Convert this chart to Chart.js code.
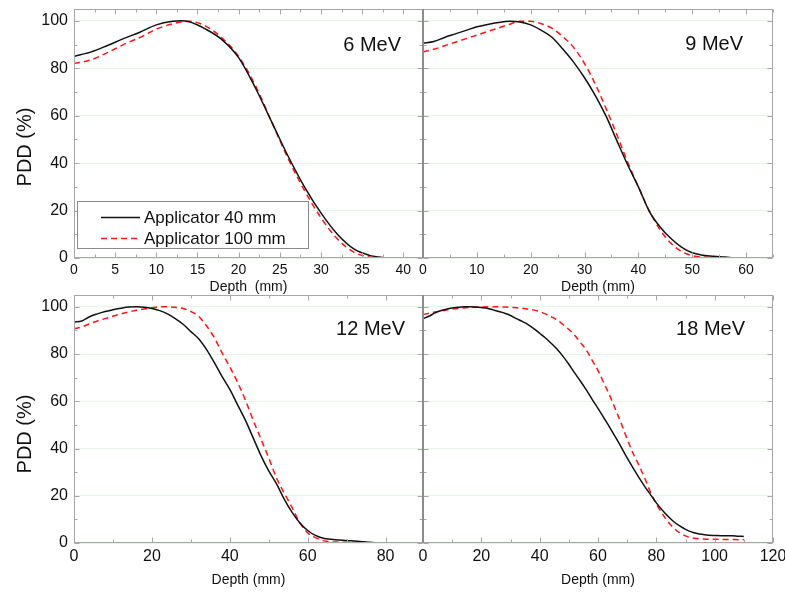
<!DOCTYPE html>
<html>
<head>
<meta charset="utf-8">
<script src="https://cdn.jsdelivr.net/npm/chart.js@4/dist/chart.umd.min.js"></script>
<style>
  html, body { margin: 0; padding: 0; background: #fff; }
  #wrap { position: relative; width: 785px; height: 592px; }
  #wrap canvas { position: absolute; left: 0; top: 0; }
</style>
</head>
<body>
<div id="wrap">
  <canvas id="p6" width="785" height="592"></canvas>
  <canvas id="p9" width="785" height="592"></canvas>
  <canvas id="p12" width="785" height="592"></canvas>
  <canvas id="p18" width="785" height="592"></canvas>
</div>
<script>
// Series names (legend)
const seriesNames = ['Applicator 40 mm', 'Applicator 100 mm'];
const yAxisTitle = 'PDD (%)';
const energyLabels = ['6 MeV', '9 MeV', '12 MeV', '18 MeV'];
const xAxisTitles = ['Depth  (mm)', 'Depth (mm)', 'Depth (mm)', 'Depth (mm)'];

// 6 MeV
const depth6 = [0, 2, 4, 6, 8, 10, 12, 13, 14, 16, 18, 20, 22, 24, 26, 28, 30, 32, 34, 36, 37, 38];
const pdd6_40 = [85, 86.8, 89.5, 92.5, 95.2, 98.3, 99.8, 100, 99.6, 96.5, 92, 84.5, 72, 57.5, 43, 30, 19, 10, 3.8, 1, 0.4, 0];
const pdd6_100 = [82, 83.5, 86.5, 90, 93, 96.5, 98.8, 99.5, 99.8, 97.8, 92.7, 85, 73, 57.5, 42, 28.5, 17, 8, 2.5, 0.3, 0, 0];

// 9 MeV
const depth9 = [0, 2, 4, 6, 8, 10, 12, 14, 16, 18, 20, 22, 24, 26, 28, 30, 32, 34, 36, 38, 40, 42, 44, 46, 48, 50, 52, 54, 56, 58];
const pdd9_40 = [90.6, 91.3, 93, 94.5, 96, 97.5, 98.5, 99.3, 99.8, 99.5, 98.3, 96, 93, 88, 82.5, 76, 68.5, 59.8, 49.5, 39.3, 30, 19.8, 13.2, 8.3, 4.6, 2.2, 1.2, 0.7, 0.4, 0];
const pdd9_100 = [87, 88, 89.5, 91, 92.5, 94, 95.5, 97, 98.5, 99.8, 99.8, 98.8, 96.8, 93.3, 88.7, 82, 73.3, 63, 52, 40.5, 30, 20, 12, 6.3, 2.8, 1, 0.4, 0.1, 0, 0];

// 12 MeV
const depth12 = [0, 2, 4, 6, 8, 10, 12, 14, 16, 18, 20, 22, 24, 26, 28, 30, 32, 34, 36, 38, 40, 42, 44, 46, 48, 50, 52, 54, 56, 58, 60, 62, 64, 66, 68, 70, 72, 74, 76, 78];
const pdd12_40 = [93.6, 94, 95.8, 97, 98, 98.8, 99.4, 99.9, 100, 99.8, 99.3, 98.4, 97, 95, 92.6, 89.5, 86.5, 82, 76.5, 70.5, 65, 58.5, 52, 44.5, 37, 30.5, 25, 18.5, 13, 8.5, 5.3, 3.2, 2, 1.6, 1.3, 1.1, 0.8, 0.5, 0.3, 0];
const pdd12_100 = [90.7, 91.5, 92.8, 94, 95, 96, 97, 97.8, 98.5, 99.1, 99.6, 100, 100, 99.8, 99.3, 98, 96, 92, 87, 80.5, 74.5, 68, 60.5, 52, 44, 36, 27.5, 21, 15, 8.5, 4.3, 2.3, 1, 0.5, 0.4, 0.3, 0.2, 0.2, 0.1, 0.1];

// 18 MeV
const depth18 = [0, 2, 4, 6, 8, 10, 12, 14, 16, 18, 20, 22, 24, 26, 28, 30, 32, 34, 36, 38, 40, 42, 44, 46, 48, 50, 52, 54, 56, 58, 60, 62, 64, 66, 68, 70, 72, 74, 76, 78, 80, 82, 84, 86, 88, 90, 92, 94, 96, 98, 100, 102, 104, 106, 108, 110];
const pdd18_40 = [95, 96, 97.3, 98.3, 99, 99.5, 99.8, 100, 100, 99.9, 99.7, 99.4, 98.7, 98, 97.3, 96.3, 95, 93.8, 92.5, 90.8, 88.8, 86.8, 84.5, 82, 79, 75.7, 72, 68.5, 64.8, 60.8, 57, 53, 49, 44.8, 40.5, 36, 31.8, 27.8, 24, 20.5, 17, 14, 11.3, 9, 7.2, 5.8, 4.7, 4, 3.6, 3.3, 3.2, 3.1, 3.1, 3.1, 2.9, 2.8];
const pdd18_100 = [96.7, 97.3, 97.8, 98.2, 98.6, 99, 99.3, 99.5, 99.7, 99.8, 99.9, 100, 100, 100, 99.9, 99.8, 99.6, 99.4, 99, 98.6, 98, 97, 95.8, 94.4, 92.5, 90.4, 88, 84.8, 81.7, 77.3, 73, 67.8, 62.5, 56.5, 50.5, 44, 38, 33, 27.5, 21.5, 16.5, 12.5, 9, 6.3, 4.3, 3, 2.2, 1.9, 1.7, 1.6, 1.6, 1.5, 1.5, 1.5, 1.4, 1.4];

const FONT = 'Arial, "Liberation Sans", sans-serif';
const LINE_COLORS = ['#111111', '#ff1414'];

function toPoints(xs, ys) {
  return xs.map((x, i) => ({ x: x, y: ys[i] }));
}

// Frame with inward ticks on all four sides, energy label, y title, legend
const panelDecor = {
  id: 'panelDecor',
  afterDatasetsDraw(chart, args, o) {
    const ctx = chart.ctx;
    const a = chart.chartArea;
    const xs = chart.scales.x, ys = chart.scales.y;
    const L = Math.round(a.left) + 0.5, R = Math.round(a.right) - 0.5;
    const T = Math.round(a.top) + 0.5, B = Math.round(a.bottom) - 0.5;
    ctx.save();
    ctx.strokeStyle = '#a6a6a6';
    ctx.lineWidth = 1;
    ctx.strokeRect(L, T, R - L, B - T);

    ctx.beginPath();
    const nY = Math.floor(ys.max / o.yMinor + 1e-6);
    for (let i = 0; i <= nY; i++) {
      const v = i * o.yMinor;
      const y = Math.round(ys.getPixelForValue(v)) + 0.5;
      const len = (i % Math.round(o.yMajor / o.yMinor) === 0) ? 5 : 3;
      ctx.moveTo(L, y); ctx.lineTo(L + len, y);
      ctx.moveTo(R, y); ctx.lineTo(R - len, y);
    }
    const nX = Math.floor(xs.max / o.xMinor + 1e-6);
    for (let i = 0; i <= nX; i++) {
      const v = i * o.xMinor;
      const x = Math.round(xs.getPixelForValue(v)) + 0.5;
      const len = (i % Math.round(o.xMajor / o.xMinor) === 0) ? 5 : 3;
      ctx.moveTo(x, B); ctx.lineTo(x, B - len);
      ctx.moveTo(x, T); ctx.lineTo(x, T + len);
    }
    ctx.stroke();

    if (o.heavyLeft) {
      ctx.strokeStyle = '#8c8c8c';
      ctx.lineWidth = 2;
      ctx.beginPath();
      ctx.moveTo(Math.round(a.left), a.top);
      ctx.lineTo(Math.round(a.left), a.bottom);
      ctx.stroke();
    }

    ctx.fillStyle = '#111';
    ctx.font = '20px ' + FONT;
    ctx.textAlign = 'right';
    ctx.textBaseline = 'middle';
    ctx.fillText(o.label, o.labelX, o.labelY);

    if (o.yTitle) {
      ctx.save();
      ctx.translate(o.yTitleX, o.yTitleY);
      ctx.rotate(-Math.PI / 2);
      ctx.font = '20px ' + FONT;
      ctx.textAlign = 'center';
      ctx.textBaseline = 'middle';
      ctx.fillText(o.yTitle, 0, 0);
      ctx.restore();
    }

    if (o.legend) {
      const lg = o.legend;
      ctx.fillStyle = '#fff';
      ctx.fillRect(lg.x, lg.y, lg.w, lg.h);
      ctx.strokeStyle = '#8a8a8a';
      ctx.lineWidth = 1;
      ctx.strokeRect(lg.x + 0.5, lg.y + 0.5, lg.w, lg.h);
      ctx.font = '17px ' + FONT;
      ctx.textAlign = 'left';
      ctx.textBaseline = 'middle';
      chart.data.datasets.forEach((ds, i) => {
        const yy = lg.y + lg.rowTop + i * lg.rowGap;
        ctx.strokeStyle = ds.borderColor;
        ctx.lineWidth = ds.borderWidth;
        ctx.setLineDash(ds.borderDash || []);
        ctx.beginPath();
        ctx.moveTo(lg.x + lg.lineX0, yy);
        ctx.lineTo(lg.x + lg.lineX1, yy);
        ctx.stroke();
        ctx.setLineDash([]);
        ctx.fillStyle = '#111';
        ctx.fillText(ds.label, lg.x + lg.textX, yy + 1);
      });
    }
    ctx.restore();
  }
};

function makePanel(id, cfg) {
  return new Chart(document.getElementById(id), {
    type: 'scatter',
    data: {
      datasets: [
        {
          label: seriesNames[0],
          data: toPoints(cfg.depth, cfg.a),
          showLine: true,
          borderColor: LINE_COLORS[0],
          borderWidth: 1.5,
          pointRadius: 0,
          cubicInterpolationMode: 'monotone'
        },
        {
          label: seriesNames[1],
          data: toPoints(cfg.depth, cfg.b),
          showLine: true,
          borderColor: LINE_COLORS[1],
          borderWidth: 1.5,
          borderDash: [6, 4],
          pointRadius: 0,
          cubicInterpolationMode: 'monotone'
        }
      ]
    },
    options: {
      responsive: false,
      animation: false,
      events: [],
      layout: { padding: cfg.pad },
      plugins: {
        legend: { display: false },
        tooltip: { enabled: false },
        panelDecor: cfg.decor
      },
      scales: {
        x: {
          type: 'linear',
          min: 0,
          max: cfg.xMax,
          grid: { display: false, drawTicks: false },
          border: { display: false },
          ticks: {
            stepSize: cfg.decor.xMajor,
            includeBounds: false,
            maxRotation: 0,
            autoSkip: false,
            padding: cfg.xTickPad,
            color: '#111',
            font: { family: FONT, size: cfg.xTickSize }
          },
          title: {
            display: true,
            text: cfg.xTitle,
            color: '#111',
            font: { family: FONT, size: 14 },
            padding: { top: 0, bottom: cfg.xTitlePad }
          },
          afterFit(s) { s.height = cfg.xH; s.paddingLeft = 0; s.paddingRight = 0; }
        },
        y: {
          type: 'linear',
          min: 0,
          max: 105,
          grid: { color: '#e3f6e3', lineWidth: 1, drawTicks: false },
          border: { display: false },
          ticks: {
            stepSize: 20,
            includeBounds: false,
            display: cfg.yLabels,
            padding: 6,
            color: '#111',
            font: { family: FONT, size: 16 }
          },
          afterFit(s) { s.width = cfg.yW; s.paddingTop = 0; s.paddingBottom = 0; }
        }
      }
    },
    plugins: [panelDecor]
  });
}

// Top-left: 6 MeV
makePanel('p6', {
  depth: depth6, a: pdd6_40, b: pdd6_100,
  xMax: 42.4, xTitle: xAxisTitles[0],
  pad: { left: 0, top: 9, right: 362, bottom: 292 },
  yW: 74, xH: 42, yLabels: true,
  xTickSize: 14, xTickPad: 4, xTitlePad: 4.6,
  decor: {
    xMajor: 5, xMinor: 2.5, yMajor: 20, yMinor: 10,
    label: energyLabels[0], labelX: 401, labelY: 45.5,
    yTitle: yAxisTitle, yTitleX: 25, yTitleY: 147,
    legend: { x: 77, y: 201, w: 231, h: 47, rowTop: 16.5, rowGap: 21, lineX0: 24, lineX1: 63, textX: 67 }
  }
});

// Top-right: 9 MeV
makePanel('p9', {
  depth: depth9, a: pdd9_40, b: pdd9_100,
  xMax: 65, xTitle: xAxisTitles[1],
  pad: { left: 423, top: 9, right: 12, bottom: 292 },
  yW: 0, xH: 42, yLabels: false,
  xTickSize: 14, xTickPad: 4, xTitlePad: 4.6,
  decor: {
    xMajor: 10, xMinor: 5, yMajor: 20, yMinor: 10, heavyLeft: true,
    label: energyLabels[1], labelX: 743, labelY: 44.5
  }
});

// Bottom-left: 12 MeV
makePanel('p12', {
  depth: depth12, a: pdd12_40, b: pdd12_100,
  xMax: 89.6, xTitle: xAxisTitles[2],
  pad: { left: 0, top: 295, right: 362, bottom: 0 },
  yW: 74, xH: 49, yLabels: true,
  xTickSize: 16, xTickPad: 3.5, xTitlePad: 3.6,
  decor: {
    xMajor: 20, xMinor: 10, yMajor: 20, yMinor: 10,
    label: energyLabels[2], labelX: 405, labelY: 329.5,
    yTitle: yAxisTitle, yTitleX: 25, yTitleY: 434
  }
});

// Bottom-right: 18 MeV
makePanel('p18', {
  depth: depth18, a: pdd18_40, b: pdd18_100,
  xMax: 120, xTitle: xAxisTitles[3],
  pad: { left: 423, top: 295, right: 12, bottom: 0 },
  yW: 0, xH: 49, yLabels: false,
  xTickSize: 16, xTickPad: 3.5, xTitlePad: 3.6,
  decor: {
    xMajor: 20, xMinor: 10, yMajor: 20, yMinor: 10, heavyLeft: true,
    label: energyLabels[3], labelX: 745, labelY: 329.5
  }
});
</script>
</body>
</html>
